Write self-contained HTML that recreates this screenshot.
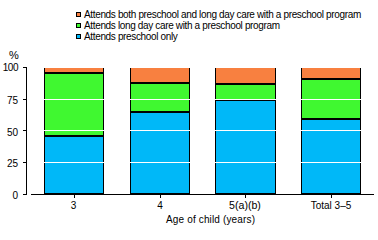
<!DOCTYPE html>
<html>
<head>
<meta charset="utf-8">
<style>
html,body{margin:0;padding:0;background:#fff;}
body{width:378px;height:227px;overflow:hidden;position:relative;font-family:"Liberation Sans",sans-serif;color:#000;}
.r{position:absolute;}
.k{background:#000;}
.o{background:#F88040;}
.g{background:#40F830;}
.b{background:#00B8F8;}
.w{background:#fff;}
.t{position:absolute;font-size:10px;line-height:12px;white-space:nowrap;}
.lg{letter-spacing:-0.35px;}
.yl{position:absolute;font-size:10px;line-height:12px;width:30px;text-align:right;left:-12px;}
.xl{position:absolute;font-size:10px;line-height:12px;width:80px;text-align:center;}
</style>
</head>
<body>
<!-- legend -->
<div class="r k" style="left:76px;top:12px;width:5px;height:5px;"></div>
<div class="r o" style="left:77px;top:13px;width:3px;height:3px;"></div>
<div class="r k" style="left:76px;top:23px;width:5px;height:5px;"></div>
<div class="r g" style="left:77px;top:24px;width:3px;height:3px;"></div>
<div class="r k" style="left:76px;top:34px;width:5px;height:5px;"></div>
<div class="r b" style="left:77px;top:35px;width:3px;height:3px;"></div>
<div class="t lg" style="left:84px;top:9px;">Attends both preschool and long day care with a preschool program</div>
<div class="t lg" style="left:84px;top:20px;">Attends long day care with a preschool program</div>
<div class="t lg" style="left:84px;top:31px;">Attends preschool only</div>

<!-- y axis -->
<div class="t" style="left:9px;top:49px;font-size:11px;">%</div>
<div class="yl" style="top:62px;letter-spacing:-0.5px;">100</div>
<div class="yl" style="top:95px;">75</div>
<div class="yl" style="top:127px;">50</div>
<div class="yl" style="top:158px;">25</div>
<div class="yl" style="top:190px;">0</div>

<!-- bars -->
<!-- bar1 44..103 -->
<div class="r k" style="left:44px;top:68px;width:60px;height:126px;"></div>
<div class="r o" style="left:45px;top:68px;width:58px;height:4px;"></div>
<div class="r g" style="left:45px;top:74px;width:58px;height:61px;"></div>
<div class="r b" style="left:45px;top:137px;width:58px;height:56px;"></div>
<!-- bar2 130..189 -->
<div class="r k" style="left:130px;top:68px;width:60px;height:126px;"></div>
<div class="r o" style="left:131px;top:68px;width:58px;height:14px;"></div>
<div class="r g" style="left:131px;top:84px;width:58px;height:27px;"></div>
<div class="r b" style="left:131px;top:113px;width:58px;height:80px;"></div>
<!-- bar3 215..275 -->
<div class="r k" style="left:215px;top:68px;width:61px;height:126px;"></div>
<div class="r o" style="left:216px;top:68px;width:59px;height:15px;"></div>
<div class="r g" style="left:216px;top:85px;width:59px;height:14px;"></div>
<div class="r b" style="left:216px;top:101px;width:59px;height:92px;"></div>
<!-- bar4 301..360 -->
<div class="r k" style="left:301px;top:68px;width:60px;height:126px;"></div>
<div class="r o" style="left:302px;top:68px;width:58px;height:10px;"></div>
<div class="r g" style="left:302px;top:80px;width:58px;height:38px;"></div>
<div class="r b" style="left:302px;top:120px;width:58px;height:73px;"></div>

<!-- gridlines -->
<div class="r w" style="left:27px;top:99px;width:347px;height:1px;"></div>
<div class="r w" style="left:27px;top:130px;width:347px;height:1px;"></div>
<div class="r w" style="left:27px;top:162px;width:347px;height:1px;"></div>

<!-- axes -->
<div class="r k" style="left:26px;top:67px;width:1px;height:128px;"></div>
<div class="r k" style="left:23px;top:67px;width:3px;height:1px;"></div>
<div class="r k" style="left:23px;top:99px;width:3px;height:1px;"></div>
<div class="r k" style="left:23px;top:130px;width:3px;height:1px;"></div>
<div class="r k" style="left:23px;top:162px;width:3px;height:1px;"></div>
<div class="r k" style="left:23px;top:194px;width:3px;height:1px;"></div>
<div class="r k" style="left:31px;top:194px;width:343px;height:1px;"></div>
<div class="r k" style="left:74px;top:195px;width:1px;height:3px;"></div>
<div class="r k" style="left:160px;top:195px;width:1px;height:3px;"></div>
<div class="r k" style="left:245px;top:195px;width:1px;height:3px;"></div>
<div class="r k" style="left:331px;top:195px;width:1px;height:3px;"></div>

<!-- x labels -->
<div class="xl" style="left:33.5px;top:200px;">3</div>
<div class="xl" style="left:120px;top:200px;">4</div>
<div class="xl" style="left:205px;top:199px;font-size:10.6px;">5(a)(b)</div>
<div class="xl" style="left:291px;top:200px;">Total 3–5</div>
<div class="t" style="left:166px;top:214px;letter-spacing:0.15px;">Age of child (years)</div>
</body>
</html>
